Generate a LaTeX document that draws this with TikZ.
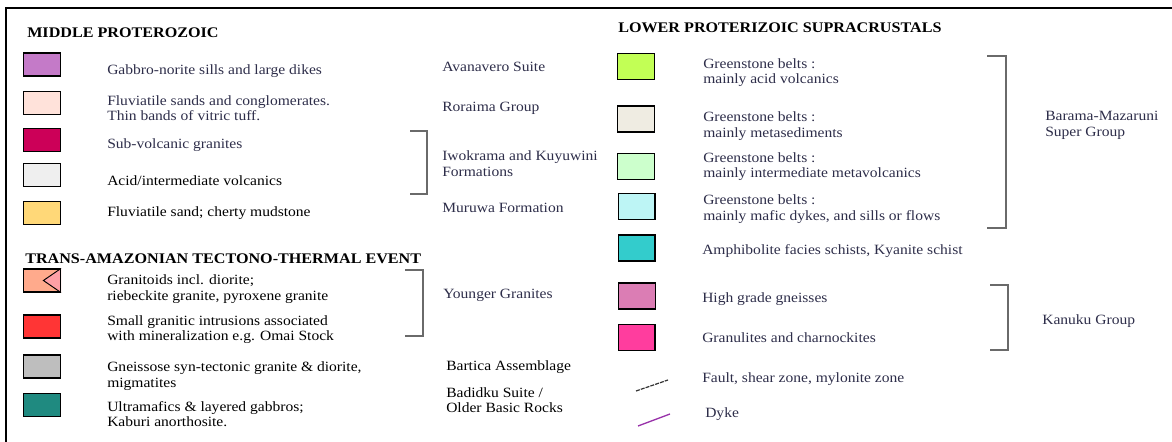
\documentclass[tikz,border=0pt]{standalone}
\usepackage{fontspec}
\setmainfont{Liberation Serif}[FakeStretch=1.1]
\definecolor{txt}{HTML}{2E2E4A}
\definecolor{brkcol}{HTML}{6A6A6A}
\definecolor{cGabbro}{HTML}{C47AC8}
\definecolor{cFluvA}{HTML}{FFE2DA}
\definecolor{cSubvol}{HTML}{CC0058}
\definecolor{cAcid}{HTML}{EFEFEF}
\definecolor{cFluvB}{HTML}{FFD878}
\definecolor{cGranA}{HTML}{FFAA8C}
\definecolor{cGranB}{HTML}{FFA0A6}
\definecolor{cSmall}{HTML}{FF3535}
\definecolor{cGneiss}{HTML}{BEBEBE}
\definecolor{cUltra}{HTML}{1F8A80}
\definecolor{cLime}{HTML}{C2FF55}
\definecolor{cBeige}{HTML}{EFECE2}
\definecolor{cLgreen}{HTML}{CCFFCC}
\definecolor{cLcyan}{HTML}{BDF5F5}
\definecolor{cAmph}{HTML}{33CCCC}
\definecolor{cHigh}{HTML}{DB7DB4}
\definecolor{cGranul}{HTML}{FF3D9E}
\definecolor{cDyke}{HTML}{9933AA}
\definecolor{cFault}{HTML}{333333}
\begin{document}
\begin{tikzpicture}[x=0.75pt,y=-0.75pt,
  bodyfont/.style={font=\fontsize{10.6}{11.6}\selectfont},
  lbl/.style={anchor=base west,inner sep=0pt,text=txt,bodyfont},
  lblk/.style={lbl,text=black},
  lbltwo/.style={anchor=west,inner sep=0pt,align=left,text=txt,bodyfont},
  lbltwok/.style={lbltwo,text=black},
  head/.style={anchor=base west,inner sep=0pt,text=black,font=\fontsize{11}{13}\selectfont\bfseries},
  swatchL/.style={draw=black,line width=0.9pt,minimum width=27.6pt,minimum height=17.2pt,inner sep=0pt},
  swatchR/.style={draw=black,line width=0.9pt,minimum width=27.6pt,minimum height=19.6pt,inner sep=0pt},
  brk/.style={draw=brkcol,line width=0.9pt},
  frame/.style={draw=black,line width=1.6pt}
]
\useasboundingbox (0,0) rectangle (1172,442);
\fill[white] (0,0) rectangle (1172,442);
% frame (top and left)
\coordinate (fTR) at (1172,7.6);
\coordinate (fTL) at (6.2,7.6);
\coordinate (fBL) at (6.2,442);
\draw[frame] (fTR) -- (fTL) -- (fBL);

% ---------- headings ----------
\node[head] (h1) at (27,38) {MIDDLE PROTEROZOIC};
\node[head] (h2) at (25,263) {TRANS-AMAZONIAN TECTONO-THERMAL EVENT};
\node[head] (h3) at (618,33) {LOWER PROTERIZOIC SUPRACRUSTALS};

% ---------- left swatches ----------
\node[swatchL,fill=cGabbro] (b1) at (42,64.5) {};
\node[swatchL,fill=cFluvA]  (b2) at (42,103) {};
\node[swatchL,fill=cSubvol] (b3) at (42,140) {};
\node[swatchL,fill=cAcid]   (b4) at (42,175) {};
\node[swatchL,fill=cFluvB]  (b5) at (42,213) {};
\node[swatchL,fill=cGranA]  (b6) at (42,280.5) {};
\fill[cGranB] (b6.north east) -- ([xshift=-13.2pt]b6.east) -- (b6.south east) -- cycle;
\draw[black,line width=0.7pt] (b6.north east) -- ([xshift=-13.2pt]b6.east) -- (b6.south east);
\node[swatchL] at (b6) {};
\node[swatchL,fill=cSmall]  (b7) at (42,326.5) {};
\node[swatchL,fill=cGneiss] (b8) at (42,366.5) {};
\node[swatchL,fill=cUltra]  (b9) at (42,405) {};

% ---------- left texts ----------
\node[lbl] (t1) at (107,75) {Gabbro-norite sills and large dikes};
\node[lbltwo] (t2) at (107,108.2) {Fluviatile sands and conglomerates.\\Thin bands of vitric tuff.};
\node[lbl] (t3) at (107,149) {Sub-volcanic granites};
\node[lblk] (t4) at (107,186) {Acid/intermediate volcanics};
\node[lblk] (t5) at (107,217) {Fluviatile sand; cherty mudstone};
\node[lbltwok] (t6) at (107,289.2) {Granitoids incl. diorite;\\riebeckite granite, pyroxene granite};
\node[lbltwok] (t7) at (107,329.7) {Small granitic intrusions associated\\with mineralization e.g. Omai Stock};
\node[lbltwok] (t8) at (107,376.2) {Gneissose syn-tectonic granite \& diorite,\\migmatites};
\node[lbltwok] (t9) at (107,414.2) {Ultramafics \& layered gabbros;\\Kaburi anorthosite.};

% ---------- middle labels ----------
\node[lbl] (m1) at (442,72) {Avanavero Suite};
\node[lbl] (m2) at (442,112) {Roraima Group};
\node[lbltwo] (m3) at (442,163.7) {Iwokrama and Kuyuwini\\Formations};
\node[lbl] (m4) at (442,213) {Muruwa Formation};
\node[lbl] (m5) at (443,299) {Younger Granites};
\node[lblk] (m6) at (446,370) {Bartica Assemblage};
\node[lbltwok] (m7) at (446,400.2) {Badidku Suite /\\Older Basic Rocks};

% ---------- left brackets ----------
\coordinate (k1a) at (410,131); \coordinate (k1b) at (427,131);
\coordinate (k1c) at (427,194); \coordinate (k1d) at (410,194);
\draw[brk] (k1a) -- (k1b) -- (k1c) -- (k1d);
\coordinate (k2a) at (405,270); \coordinate (k2b) at (423,270);
\coordinate (k2c) at (423,336); \coordinate (k2d) at (405,336);
\draw[brk] (k2a) -- (k2b) -- (k2c) -- (k2d);

% ---------- right swatches ----------
\node[swatchR,fill=cLime]   (r1) at (636,66.5) {};
\node[swatchR,fill=cBeige]  (r2) at (636,119) {};
\node[swatchR,fill=cLgreen] (r3) at (636,166.5) {};
\node[swatchR,fill=cLcyan]  (r4) at (636.5,206.5) {};
\node[swatchR,fill=cAmph]   (r5) at (636.5,248) {};
\node[swatchR,fill=cHigh]   (r6) at (637,296) {};
\node[swatchR,fill=cGranul] (r7) at (636.5,337.5) {};

% ---------- right texts ----------
\node[lbltwo] (s1) at (703,72.7) {Greenstone belts :\\mainly acid volcanics};
\node[lbltwo] (s2) at (703,126.2) {Greenstone belts :\\mainly metasediments};
\node[lbltwo] (s3) at (703,166.7) {Greenstone belts :\\mainly intermediate metavolcanics};
\node[lbltwo] (s4) at (703,209.2) {Greenstone belts :\\mainly mafic dykes, and sills or flows};
\node[lbl] (s5) at (702,255) {Amphibolite facies schists, Kyanite schist};
\node[lbl] (s6) at (702,303) {High grade gneisses};
\node[lbl] (s7) at (702,343) {Granulites and charnockites};
\node[lbl] (s8) at (702,382) {Fault, shear zone, mylonite zone};
\node[lbl] (s9) at (705,417) {Dyke};

% line symbols
\coordinate (fa) at (636,391); \coordinate (fb) at (668,380);
\draw[cFault,line width=0.9pt,dash pattern=on 3pt off 0.8pt] (fa) -- (fb);
\coordinate (da) at (638,426); \coordinate (db) at (670,414);
\draw[cDyke,line width=1pt] (da) -- (db);

% ---------- right brackets and labels ----------
\coordinate (k3a) at (987,56); \coordinate (k3b) at (1006,56);
\coordinate (k3c) at (1006,228); \coordinate (k3d) at (987,228);
\draw[brk] (k3a) -- (k3b) -- (k3c) -- (k3d);
\coordinate (k4a) at (990,285); \coordinate (k4b) at (1008,285);
\coordinate (k4c) at (1008,350); \coordinate (k4d) at (990,350);
\draw[brk] (k4a) -- (k4b) -- (k4c) -- (k4d);
\node[lbltwo] (g1) at (1045,125.2) {Barama-Mazaruni\\Super Group};
\node[lbl] (g2) at (1042,325) {Kanuku Group};
\end{tikzpicture}
\end{document}
